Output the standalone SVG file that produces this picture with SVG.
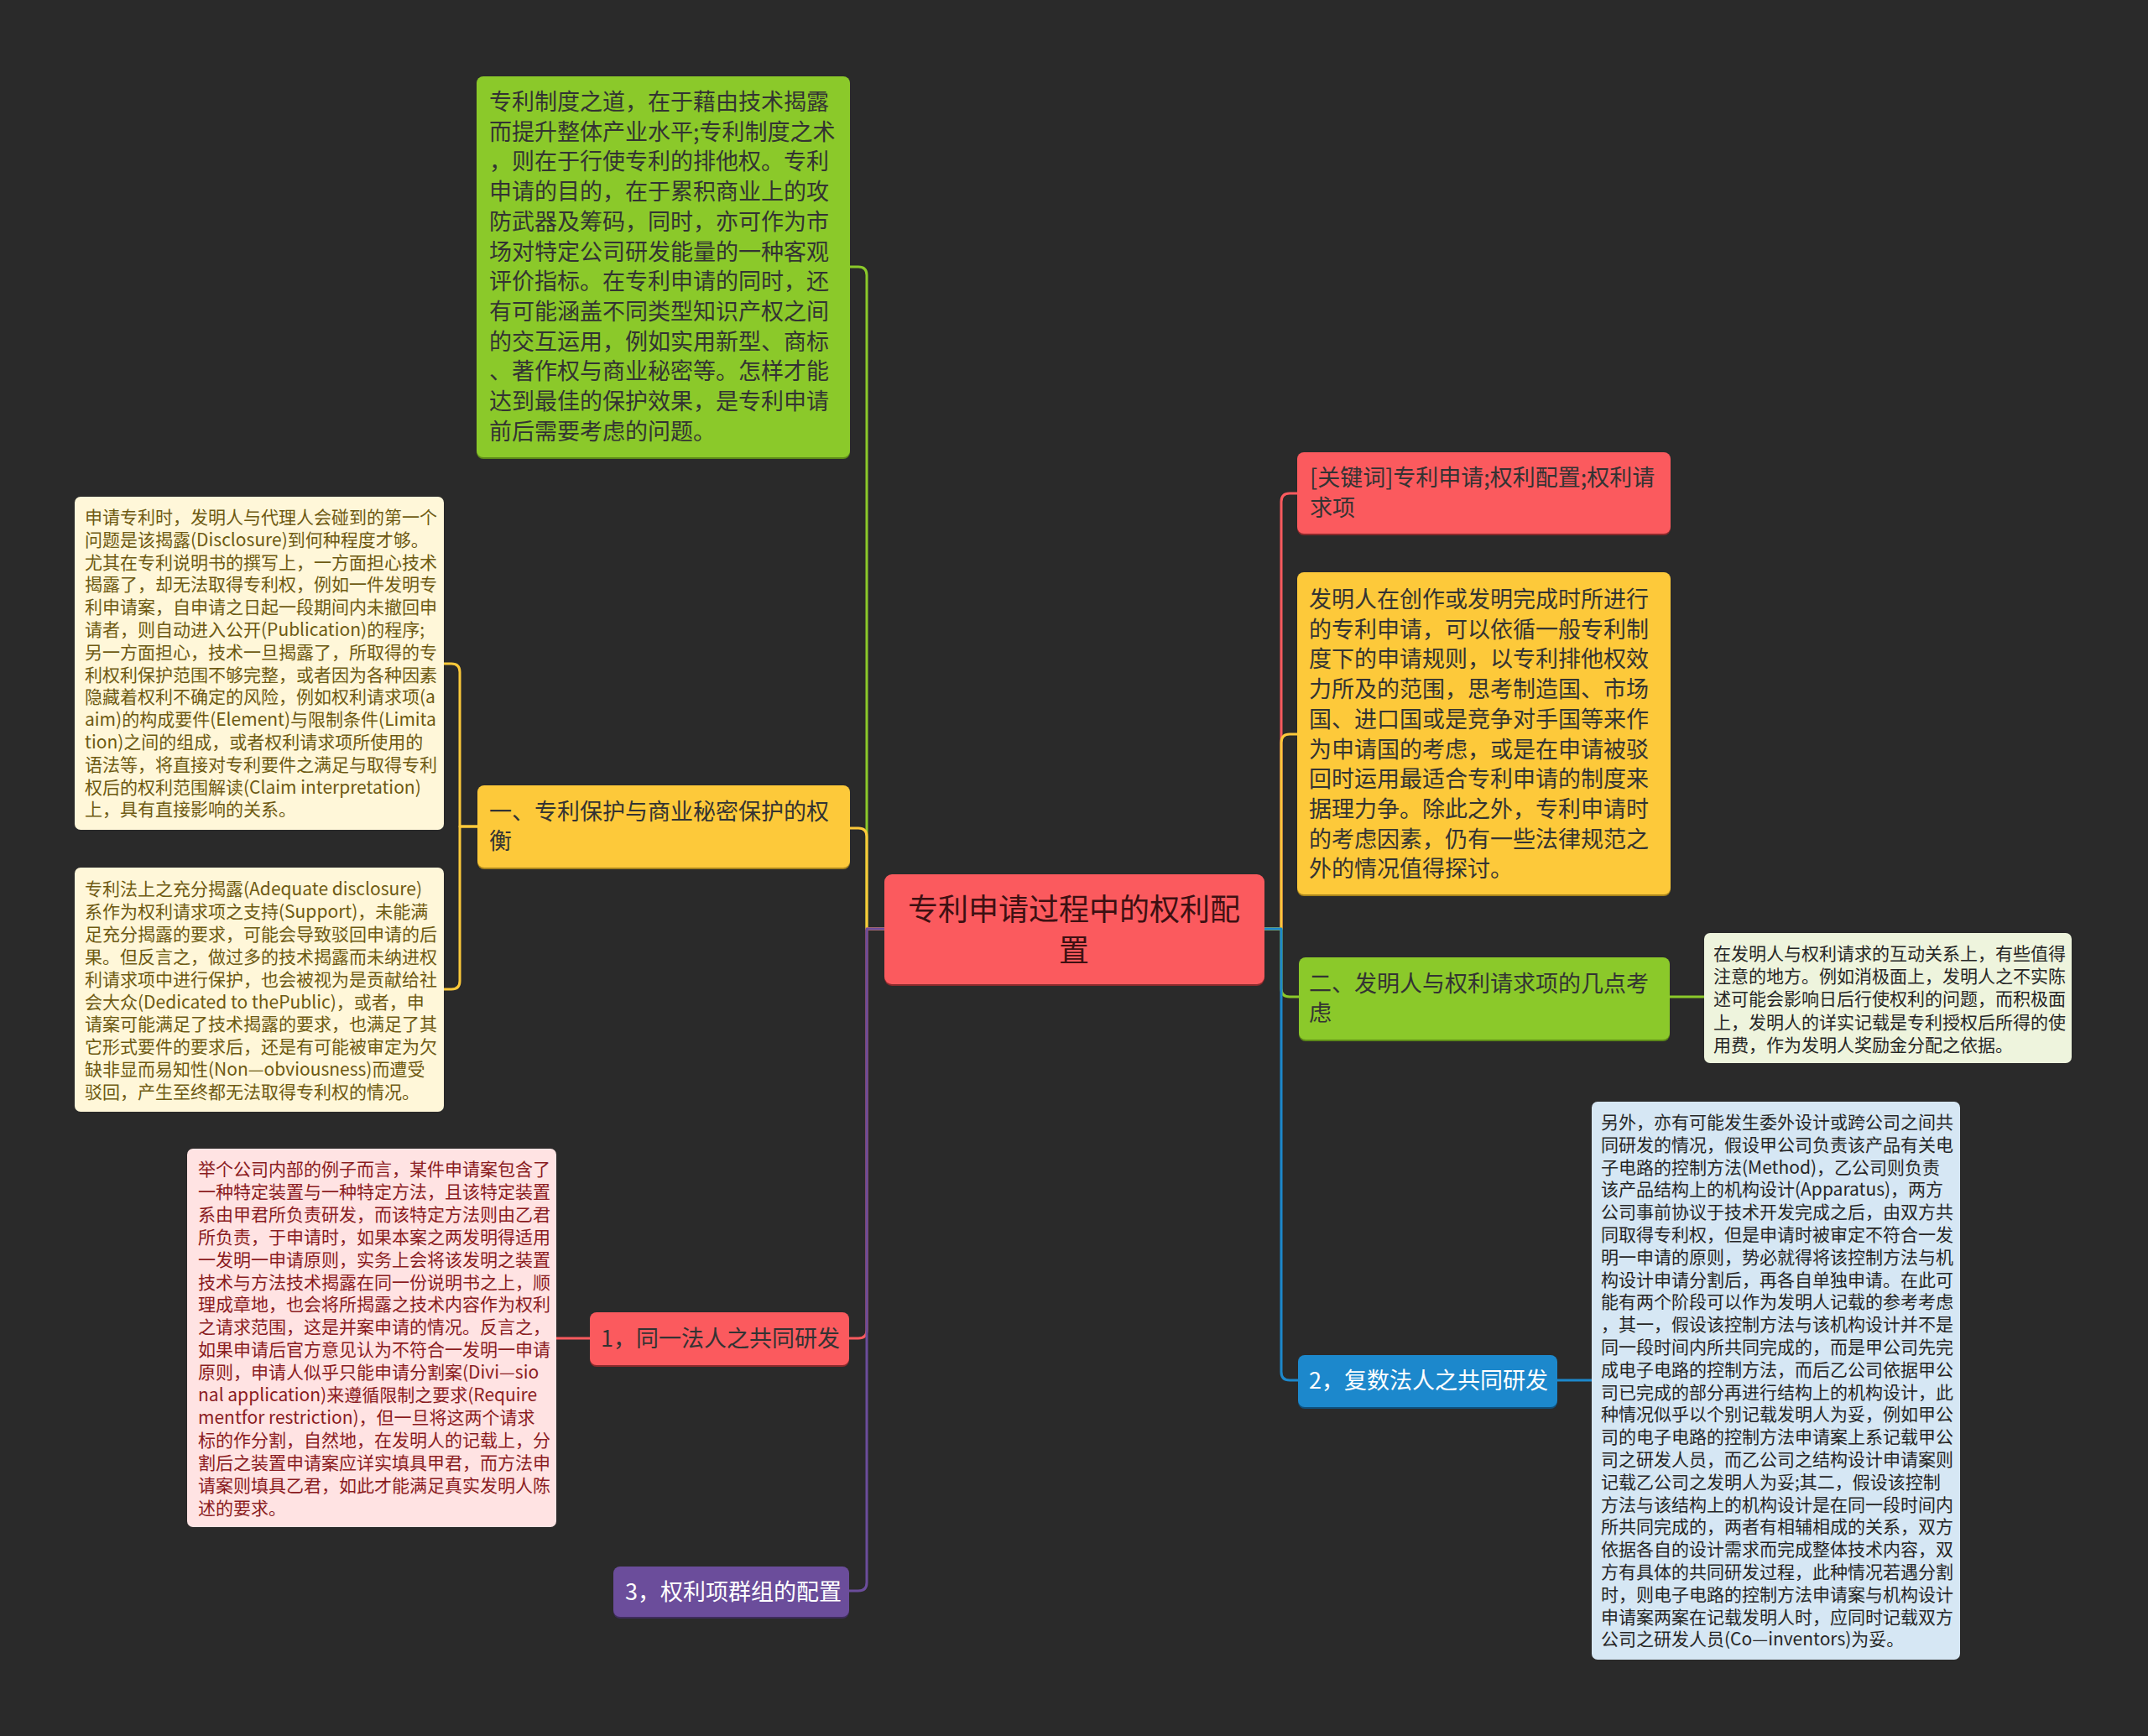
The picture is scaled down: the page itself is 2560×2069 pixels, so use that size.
<svg xmlns="http://www.w3.org/2000/svg" width="2560" height="2069" viewBox="0 0 2560 2069">
<style>
text{font-family:"Noto Sans CJK SC","Noto Sans",sans-serif;dominant-baseline:central}
.big{font-size:27px}
.small{font-size:21px}
.root{font-size:36px;fill:#3d1012;text-anchor:middle}
.dark{fill:#333333}
.white{fill:#ffffff}
.brown{fill:#6e5a12}
.maroon{fill:#8b1c1f}
.ink{fill:#262626}
.conn{fill:none;stroke-width:3;stroke-linecap:round;stroke-linejoin:round}
</style>
<rect width="2560" height="2069" fill="#2a2a2a"/>
<g id="connectors">
<path class="conn" stroke="#8bc92a" d="M1054,1107 H1033 V328 Q1033,318 1023,318 H1013"/>
<path class="conn" stroke="#fdc93a" d="M1054,1107 H1033 V997 Q1033,987 1023,987 H1013"/>
<path class="conn" stroke="#fb5a5e" d="M1054,1107 H1033 V1585 Q1033,1595 1023,1595 H1012"/>
<path class="conn" stroke="#6b4d9b" d="M1054,1107 H1033 V1886 Q1033,1896 1023,1896 H1012"/>
<path class="conn" stroke="#fb5a5e" d="M1507,1107 H1527 V598 Q1527,588 1537,588 H1546"/>
<path class="conn" stroke="#fdc93a" d="M1507,1107 H1527 V885 Q1527,875 1537,875 H1546"/>
<path class="conn" stroke="#8bc92a" d="M1507,1107 H1527 V1178 Q1527,1188 1537,1188 H1548"/>
<path class="conn" stroke="#1c88cc" d="M1507,1107 H1527 V1635 Q1527,1645 1537,1645 H1547"/>
<path class="conn" stroke="#fdc93a" d="M569,985 H548 V801 Q548,791 538,791 H529"/>
<path class="conn" stroke="#fdc93a" d="M569,985 H548 V1169 Q548,1179 538,1179 H529"/>
<path class="conn" stroke="#fb5a5e" d="M703,1595 H663"/>
<path class="conn" stroke="#8bc92a" d="M1990,1188 H2031"/>
<path class="conn" stroke="#1c88cc" d="M1856,1645 H1897"/>
</g>
<g id="root">
<rect x="1054" y="1044" width="453" height="131" rx="9" fill="#8a2a2c"/>
<rect x="1054" y="1042" width="453" height="131" rx="9" fill="#fb5a5e"/>
<text class="root" x="1280" y="1081">专利申请过程中的权利配</text>
<text class="root" x="1280" y="1130">置</text>
</g>
<g id="n-green-text">
<rect x="568" y="93" width="445" height="454" rx="8" fill="#5d8a18"/>
<rect x="568" y="91" width="445" height="454" rx="8" fill="#8bc92a"/>
<text class="big dark" x="583" y="119"><tspan x="583">专利制度之道，在于藉由技术揭露</tspan><tspan x="583" dy="35.7">而提升整体产业水平;专利制度之术</tspan><tspan x="583" dy="35.7">，则在于行使专利的排他权。专利</tspan><tspan x="583" dy="35.7">申请的目的，在于累积商业上的攻</tspan><tspan x="583" dy="35.7">防武器及筹码，同时，亦可作为市</tspan><tspan x="583" dy="35.7">场对特定公司研发能量的一种客观</tspan><tspan x="583" dy="35.7">评价指标。在专利申请的同时，还</tspan><tspan x="583" dy="35.7">有可能涵盖不同类型知识产权之间</tspan><tspan x="583" dy="35.7">的交互运用，例如实用新型、商标</tspan><tspan x="583" dy="35.7">、著作权与商业秘密等。怎样才能</tspan><tspan x="583" dy="35.7">达到最佳的保护效果，是专利申请</tspan><tspan x="583" dy="35.7">前后需要考虑的问题。</tspan></text>
</g>
<g id="n-yellow-branch">
<rect x="569" y="938" width="444" height="98" rx="8" fill="#a8841c"/>
<rect x="569" y="936" width="444" height="98" rx="8" fill="#fdc93a"/>
<text class="big dark" x="583" y="965"><tspan x="583">一、专利保护与商业秘密保护的权</tspan><tspan x="583" dy="35">衡</tspan></text>
</g>
<g id="n-yellow-leaf1">
<rect x="89" y="592" width="440" height="397" rx="7" fill="#fff7d9"/>
<text class="small brown" x="101" y="615"><tspan x="101">申请专利时，发明人与代理人会碰到的第一个</tspan><tspan x="101" dy="26.8">问题是该揭露(Disclosure)到何种程度才够。</tspan><tspan x="101" dy="26.8">尤其在专利说明书的撰写上，一方面担心技术</tspan><tspan x="101" dy="26.8">揭露了，却无法取得专利权，例如一件发明专</tspan><tspan x="101" dy="26.8">利申请案，自申请之日起一段期间内未撤回申</tspan><tspan x="101" dy="26.8">请者，则自动进入公开(Publication)的程序;</tspan><tspan x="101" dy="26.8">另一方面担心，技术一旦揭露了，所取得的专</tspan><tspan x="101" dy="26.8">利权利保护范围不够完整，或者因为各种因素</tspan><tspan x="101" dy="26.8">隐藏着权利不确定的风险，例如权利请求项(a</tspan><tspan x="101" dy="26.8">aim)的构成要件(Element)与限制条件(Limita</tspan><tspan x="101" dy="26.8">tion)之间的组成，或者权利请求项所使用的</tspan><tspan x="101" dy="26.8">语法等，将直接对专利要件之满足与取得专利</tspan><tspan x="101" dy="26.8">权后的权利范围解读(Claim interpretation)</tspan><tspan x="101" dy="26.8">上，具有直接影响的关系。</tspan></text>
</g>
<g id="n-yellow-leaf2">
<rect x="89" y="1034" width="440" height="291" rx="7" fill="#fff7d9"/>
<text class="small brown" x="101" y="1058"><tspan x="101">专利法上之充分揭露(Adequate disclosure)</tspan><tspan x="101" dy="26.9">系作为权利请求项之支持(Support)，未能满</tspan><tspan x="101" dy="26.9">足充分揭露的要求，可能会导致驳回申请的后</tspan><tspan x="101" dy="26.9">果。但反言之，做过多的技术揭露而未纳进权</tspan><tspan x="101" dy="26.9">利请求项中进行保护，也会被视为是贡献给社</tspan><tspan x="101" dy="26.9">会大众(Dedicated to thePublic)，或者，申</tspan><tspan x="101" dy="26.9">请案可能满足了技术揭露的要求，也满足了其</tspan><tspan x="101" dy="26.9">它形式要件的要求后，还是有可能被审定为欠</tspan><tspan x="101" dy="26.9">缺非显而易知性(Non—obviousness)而遭受</tspan><tspan x="101" dy="26.9">驳回，产生至终都无法取得专利权的情况。</tspan></text>
</g>
<g id="n-red-branch">
<rect x="703" y="1566" width="309" height="63" rx="8" fill="#8a2a2c"/>
<rect x="703" y="1564" width="309" height="63" rx="8" fill="#fb5a5e"/>
<text class="big dark" x="716" y="1593">1，同一法人之共同研发</text>
</g>
<g id="n-red-leaf">
<rect x="223" y="1369" width="440" height="451" rx="7" fill="#ffe3e3"/>
<text class="small maroon" x="236" y="1392"><tspan x="236">举个公司内部的例子而言，某件申请案包含了</tspan><tspan x="236" dy="26.9">一种特定装置与一种特定方法，且该特定装置</tspan><tspan x="236" dy="26.9">系由甲君所负责研发，而该特定方法则由乙君</tspan><tspan x="236" dy="26.9">所负责，于申请时，如果本案之两发明得适用</tspan><tspan x="236" dy="26.9">一发明一申请原则，实务上会将该发明之装置</tspan><tspan x="236" dy="26.9">技术与方法技术揭露在同一份说明书之上，顺</tspan><tspan x="236" dy="26.9">理成章地，也会将所揭露之技术内容作为权利</tspan><tspan x="236" dy="26.9">之请求范围，这是并案申请的情况。反言之，</tspan><tspan x="236" dy="26.9">如果申请后官方意见认为不符合一发明一申请</tspan><tspan x="236" dy="26.9">原则，申请人似乎只能申请分割案(Divi—sio</tspan><tspan x="236" dy="26.9">nal application)来遵循限制之要求(Require</tspan><tspan x="236" dy="26.9">mentfor restriction)，但一旦将这两个请求</tspan><tspan x="236" dy="26.9">标的作分割，自然地，在发明人的记载上，分</tspan><tspan x="236" dy="26.9">割后之装置申请案应详实填具甲君，而方法申</tspan><tspan x="236" dy="26.9">请案则填具乙君，如此才能满足真实发明人陈</tspan><tspan x="236" dy="26.9">述的要求。</tspan></text>
</g>
<g id="n-purple-branch">
<rect x="731" y="1869" width="281" height="60" rx="8" fill="#3e2c5c"/>
<rect x="731" y="1867" width="281" height="60" rx="8" fill="#6b4d9b"/>
<text class="big white" x="745" y="1895">3，权利项群组的配置</text>
</g>
<g id="n-keyword">
<rect x="1546" y="541" width="445" height="97" rx="8" fill="#8a2a2c"/>
<rect x="1546" y="539" width="445" height="97" rx="8" fill="#fb5a5e"/>
<text class="big dark" x="1561" y="567"><tspan x="1561">[关键词]专利申请;权利配置;权利请</tspan><tspan x="1561" dy="36">求项</tspan></text>
</g>
<g id="n-yellow-text">
<rect x="1546" y="684" width="445" height="384" rx="8" fill="#a8841c"/>
<rect x="1546" y="682" width="445" height="384" rx="8" fill="#fdc93a"/>
<text class="big dark" x="1560" y="712"><tspan x="1560">发明人在创作或发明完成时所进行</tspan><tspan x="1560" dy="35.7">的专利申请，可以依循一般专利制</tspan><tspan x="1560" dy="35.7">度下的申请规则，以专利排他权效</tspan><tspan x="1560" dy="35.7">力所及的范围，思考制造国、市场</tspan><tspan x="1560" dy="35.7">国、进口国或是竞争对手国等来作</tspan><tspan x="1560" dy="35.7">为申请国的考虑，或是在申请被驳</tspan><tspan x="1560" dy="35.7">回时运用最适合专利申请的制度来</tspan><tspan x="1560" dy="35.7">据理力争。除此之外，专利申请时</tspan><tspan x="1560" dy="35.7">的考虑因素，仍有一些法律规范之</tspan><tspan x="1560" dy="35.7">外的情况值得探讨。</tspan></text>
</g>
<g id="n-green-branch">
<rect x="1548" y="1143" width="442" height="98" rx="8" fill="#5d8a18"/>
<rect x="1548" y="1141" width="442" height="98" rx="8" fill="#8bc92a"/>
<text class="big dark" x="1560" y="1170"><tspan x="1560">二、发明人与权利请求项的几点考</tspan><tspan x="1560" dy="35">虑</tspan></text>
</g>
<g id="n-green-leaf">
<rect x="2031" y="1112" width="438" height="155" rx="7" fill="#eef4dd"/>
<text class="small ink" x="2042" y="1135"><tspan x="2042">在发明人与权利请求的互动关系上，有些值得</tspan><tspan x="2042" dy="27.2">注意的地方。例如消极面上，发明人之不实陈</tspan><tspan x="2042" dy="27.2">述可能会影响日后行使权利的问题，而积极面</tspan><tspan x="2042" dy="27.2">上，发明人的详实记载是专利授权后所得的使</tspan><tspan x="2042" dy="27.2">用费，作为发明人奖励金分配之依据。</tspan></text>
</g>
<g id="n-blue-branch">
<rect x="1547" y="1617" width="309" height="62" rx="8" fill="#0f4f7a"/>
<rect x="1547" y="1615" width="309" height="62" rx="8" fill="#1c88cc"/>
<text class="big white" x="1560" y="1643">2，复数法人之共同研发</text>
</g>
<g id="n-blue-leaf">
<rect x="1897" y="1313" width="439" height="665" rx="7" fill="#d6e7f4"/>
<text class="small ink" x="1908" y="1336"><tspan x="1908">另外，亦有可能发生委外设计或跨公司之间共</tspan><tspan x="1908" dy="26.8">同研发的情况，假设甲公司负责该产品有关电</tspan><tspan x="1908" dy="26.8">子电路的控制方法(Method)，乙公司则负责</tspan><tspan x="1908" dy="26.8">该产品结构上的机构设计(Apparatus)，两方</tspan><tspan x="1908" dy="26.8">公司事前协议于技术开发完成之后，由双方共</tspan><tspan x="1908" dy="26.8">同取得专利权，但是申请时被审定不符合一发</tspan><tspan x="1908" dy="26.8">明一申请的原则，势必就得将该控制方法与机</tspan><tspan x="1908" dy="26.8">构设计申请分割后，再各自单独申请。在此可</tspan><tspan x="1908" dy="26.8">能有两个阶段可以作为发明人记载的参考考虑</tspan><tspan x="1908" dy="26.8">，其一，假设该控制方法与该机构设计并不是</tspan><tspan x="1908" dy="26.8">同一段时间内所共同完成的，而是甲公司先完</tspan><tspan x="1908" dy="26.8">成电子电路的控制方法，而后乙公司依据甲公</tspan><tspan x="1908" dy="26.8">司已完成的部分再进行结构上的机构设计，此</tspan><tspan x="1908" dy="26.8">种情况似乎以个别记载发明人为妥，例如甲公</tspan><tspan x="1908" dy="26.8">司的电子电路的控制方法申请案上系记载甲公</tspan><tspan x="1908" dy="26.8">司之研发人员，而乙公司之结构设计申请案则</tspan><tspan x="1908" dy="26.8">记载乙公司之发明人为妥;其二，假设该控制</tspan><tspan x="1908" dy="26.8">方法与该结构上的机构设计是在同一段时间内</tspan><tspan x="1908" dy="26.8">所共同完成的，两者有相辅相成的关系，双方</tspan><tspan x="1908" dy="26.8">依据各自的设计需求而完成整体技术内容，双</tspan><tspan x="1908" dy="26.8">方有具体的共同研发过程，此种情况若遇分割</tspan><tspan x="1908" dy="26.8">时，则电子电路的控制方法申请案与机构设计</tspan><tspan x="1908" dy="26.8">申请案两案在记载发明人时，应同时记载双方</tspan><tspan x="1908" dy="26.8">公司之研发人员(Co—inventors)为妥。</tspan></text>
</g>
</svg>
